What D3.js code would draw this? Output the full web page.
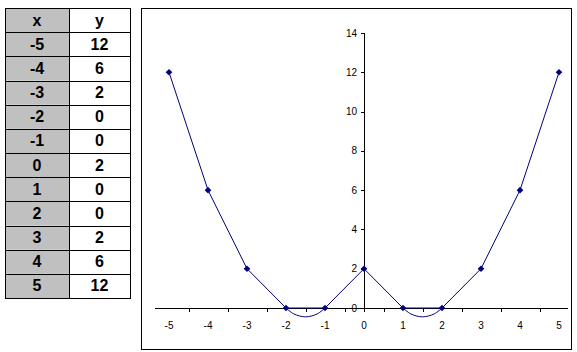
<!DOCTYPE html>
<html>
<head>
<meta charset="utf-8">
<script src="https://cdn.jsdelivr.net/npm/d3@7"></script>
<style>
  body { margin: 0; background: #fff; }
  svg { display: block; }
</style>
</head>
<body>
<div id="chart"></div>
<script>
const xValues = [-5, -4, -3, -2, -1, 0, 1, 2, 3, 4, 5];
const yValues = [12, 6, 2, 0, 0, 2, 0, 0, 2, 6, 12];
// the little dips drawn under the axis between -2..-1 and 1..2
const dipLeftX = [-2, -1.8, -1.5, -1.2, -1];
const dipLeftY = [0, -0.3, -0.45, -0.3, 0];
const dipRightX = [1, 1.2, 1.5, 1.8, 2];
const dipRightY = [0, -0.3, -0.45, -0.3, 0];
const yTicks = [0, 2, 4, 6, 8, 10, 12, 14];
const xTickLabels = [-5, -4, -3, -2, -1, 0, 1, 2, 3, 4, 5];
const xTickMarks = [-4.5, -3.5, -2.5, -1.5, -0.5, 0.5, 1.5, 2.5, 3.5, 4.5];
const tableHeader = ["x", "y"];

const W = 577, H = 352;
const lineColor = "#000080";

const svg = d3.select("#chart")
  .append("svg")
  .attr("width", W)
  .attr("height", H);

// ---- table on the left ----
const table = { left: 5, mid: 69, right: 130, top: 8, rowH: 24.17 };
const rows = [tableHeader].concat(xValues.map((x, i) => [x, yValues[i]]));

const tg = svg.append("g");
rows.forEach(function (r, i) {
  const y0 = table.top + i * table.rowH;
  tg.append("rect")
    .attr("x", table.left).attr("y", y0)
    .attr("width", table.mid - table.left).attr("height", table.rowH)
    .attr("fill", "#c0c0c0");
  tg.append("rect")
    .attr("x", table.mid).attr("y", y0)
    .attr("width", table.right - table.mid).attr("height", table.rowH)
    .attr("fill", "#ffffff");
  [0, 1].forEach(function (c) {
    const cx = c === 0 ? (table.left + table.mid) / 2 : (table.mid + table.right) / 2;
    tg.append("text")
      .attr("x", cx)
      .attr("y", y0 + table.rowH / 2 + 5.5)
      .attr("text-anchor", "middle")
      .attr("font-family", "'Liberation Sans', Arial, sans-serif")
      .attr("font-weight", "bold")
      .attr("font-size", "16px")
      .text(r[c]);
  });
});
// grid lines
for (let i = 0; i <= rows.length; i++) {
  const yy = Math.round(table.top + i * table.rowH) + 0.5;
  tg.append("line")
    .attr("x1", table.left).attr("x2", table.right + 1)
    .attr("y1", yy).attr("y2", yy)
    .attr("stroke", "#000").attr("stroke-width", 1);
}
[table.left, table.mid, table.right].forEach(function (xx) {
  tg.append("line")
    .attr("x1", xx + 0.5).attr("x2", xx + 0.5)
    .attr("y1", table.top).attr("y2", Math.round(table.top + rows.length * table.rowH) + 1)
    .attr("stroke", "#000").attr("stroke-width", 1);
});

// ---- chart frame ----
svg.append("rect")
  .attr("x", 141.5).attr("y", 8.5)
  .attr("width", 430).attr("height", 341)
  .attr("fill", "#fff")
  .attr("stroke", "#000")
  .attr("stroke-width", 1);

// scales
const x = d3.scaleLinear().domain([-5, 5]).range([169, 559]);
const y = d3.scaleLinear().domain([0, 14]).range([308, 33]);

const font = "'Liberation Sans', Arial, sans-serif";

// x axis line
const axisG = svg.append("g").attr("stroke", "#000").attr("stroke-width", 1);
axisG.append("line")
  .attr("x1", 155).attr("x2", 568)
  .attr("y1", y(0) + 0.5).attr("y2", y(0) + 0.5);
axisG.selectAll(".xt")
  .data(xTickMarks)
  .join("line")
  .attr("x1", d => Math.round(x(d)) + 0.5)
  .attr("x2", d => Math.round(x(d)) + 0.5)
  .attr("y1", y(0)).attr("y2", y(0) + 4);

// y axis line at x = 0
axisG.append("line")
  .attr("x1", x(0) + 0.5).attr("x2", x(0) + 0.5)
  .attr("y1", y(14)).attr("y2", y(0) + 4);
axisG.selectAll(".yt")
  .data(yTicks)
  .join("line")
  .attr("x1", x(0) - 3).attr("x2", x(0))
  .attr("y1", d => Math.round(y(d)) + 0.5)
  .attr("y2", d => Math.round(y(d)) + 0.5);

svg.append("g")
  .selectAll("text")
  .data(xTickLabels)
  .join("text")
  .attr("x", d => x(d))
  .attr("y", y(0) + 21)
  .attr("text-anchor", "middle")
  .attr("font-family", font)
  .attr("font-size", "10px")
  .text(d => d);

svg.append("g")
  .selectAll("text")
  .data(yTicks)
  .join("text")
  .attr("x", x(0) - 7)
  .attr("y", d => y(d) + 3.5)
  .attr("text-anchor", "end")
  .attr("font-family", font)
  .attr("font-size", "10px")
  .text(d => d);

// ---- series ----
const pts = xValues.map((d, i) => ({ x: d, y: yValues[i] }));

const line = d3.line()
  .x(d => x(d.x))
  .y(d => y(d.y));

svg.append("path")
  .datum(pts)
  .attr("d", line)
  .attr("fill", "none")
  .attr("stroke", lineColor)
  .attr("stroke-width", 1);

const dipLine = d3.line()
  .x(d => x(d.x))
  .y(d => y(d.y))
  .curve(d3.curveCatmullRom);

[[dipLeftX, dipLeftY], [dipRightX, dipRightY]].forEach(function (dp) {
  svg.append("path")
    .datum(dp[0].map((d, i) => ({ x: d, y: dp[1][i] })))
    .attr("d", dipLine)
    .attr("fill", "none")
    .attr("stroke", lineColor)
    .attr("stroke-width", 1);
});

svg.append("g")
  .selectAll("path")
  .data(pts)
  .join("path")
  .attr("d", d3.symbol().type(d3.symbolSquare).size(22))
  .attr("transform", d => `translate(${x(d.x)},${y(d.y)}) rotate(45)`)
  .attr("fill", lineColor);
</script>
</body>
</html>
